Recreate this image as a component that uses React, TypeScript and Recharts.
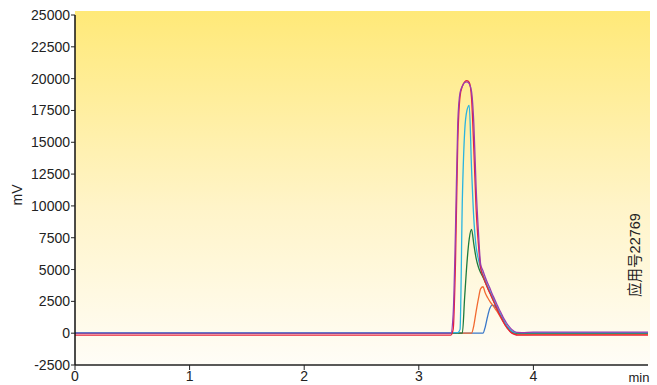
import { LineChart, Line, XAxis, YAxis } from 'recharts';

// retention time (min)
const times = [
  0, 3.25, 3.28, 3.3, 3.32, 3.34, 3.36, 3.38, 3.4, 3.42, 3.44, 3.46, 3.48, 3.5, 3.52, 3.54,
  3.56, 3.58, 3.6, 3.62, 3.64, 3.66, 3.68, 3.7, 3.72, 3.74, 3.76, 3.78, 3.8, 3.82, 3.84,
  3.86, 3.9, 4.0, 5.0,
];

// mV readings per injection
const purpleRun = [
  0, 0, 0, 1500, 8000, 16500, 18900, 19400, 19700, 19750, 19600, 19000, 16500, 11500, 8000, 5400,
  4900, 4400, 3950, 3550, 3100, 2700, 2300, 1900, 1550, 1180, 880, 610, 400, 230, 110,
  60, 50, 80, 80,
];
const redRun = [
  -150, -150, -150, 300, 5500, 15000, 18600, 19400, 19750, 19850, 19700, 18500, 14500, 9800, 7000, 5100,
  4500, 4000, 3550, 3150, 2750, 2350, 1950, 1550, 1200, 850, 550, 300, 100, -30, -110,
  -150, -150, -150, -150,
];
const cyanRun = [
  50, 50, 50, 50, 50, 50, 300, 10500, 15800, 17500, 17900, 13000, 9000, 6800, 5800, 5100,
  4600, 4150, 3700, 3300, 2900, 2500, 2100, 1700, 1350, 1000, 700, 450, 250, 120, 60,
  50, 50, 50, 50,
];
const greenRun = [
  0, 0, 0, 0, 0, 0, 0, 0, 2800, 5500, 7400, 8150, 7000, 5900, 5200, 4750,
  4400, 4000, 3600, 3200, 2800, 2400, 2000, 1650, 1300, 950, 650, 400, 200, 80, 20,
  0, 0, 0, 0,
];
const orangeRun = [
  0, 0, 0, 0, 0, 0, 0, 0, 0, 0, 0, 0, 600, 1700, 2700, 3500,
  3650, 3150, 2800, 2500, 2250, 2000, 1750, 1450, 1150, 850, 560, 320, 130, 0, -80,
  -120, -120, -100, -100,
];
const blueRun = [
  0, 0, 0, 0, 0, 0, 0, 0, 0, 0, 0, 0, 0, 0, 0, 0,
  0, 500, 1300, 1950, 2200, 2150, 1900, 1550, 1250, 950, 650, 400, 200, 80, 20,
  0, 0, 0, 0,
];

const xTicks = [0, 1, 2, 3, 4];
const yTicks = [-2500, 0, 2500, 5000, 7500, 10000, 12500, 15000, 17500, 20000, 22500, 25000];

const series = [
  { key: 'blue', values: blueRun, color: '#3a78c8' },
  { key: 'orange', values: orangeRun, color: '#f26a30' },
  { key: 'green', values: greenRun, color: '#1e7a3c' },
  { key: 'cyan', values: cyanRun, color: '#2ab4e0' },
  { key: 'red', values: redRun, color: '#e8203a' },
  { key: 'purple', values: purpleRun, color: '#9a3cb0' },
];

const data = times.map((t, i) => {
  const row: Record<string, number> = { t };
  series.forEach(s => {
    row[s.key] = s.values[i];
  });
  return row;
});

const font = '"Liberation Sans", Arial, sans-serif';
const tickStyle = { fontSize: 14, fill: '#222', fontFamily: font };

export default function App() {
  return (
    <div style={{ position: 'absolute', left: 0, top: 0 }}>
      <LineChart
        width={657}
        height={385}
        data={data}
        margin={{ top: 15, right: 9, bottom: 0, left: 0 }}
      >
        <defs>
          <linearGradient id="bg" x1="0" y1="0" x2="0" y2="1">
            <stop offset="0%" stopColor="#ffe978" />
            <stop offset="55%" stopColor="#fff4c8" />
            <stop offset="100%" stopColor="#fffdf7" />
          </linearGradient>
        </defs>
        {/* plot background */}
        <rect x={75} y={11} width={575} height={354} fill="url(#bg)" />
        <XAxis
          dataKey="t"
          type="number"
          domain={[0, 5]}
          ticks={xTicks}
          height={20}
          tickSize={5}
          tickMargin={1}
          tick={tickStyle}
          axisLine={{ stroke: '#222', strokeWidth: 1.5 }}
          tickLine={{ stroke: '#222' }}
        />
        <YAxis
          type="number"
          domain={[-2500, 25000]}
          ticks={yTicks}
          width={75}
          tickSize={4}
          tickMargin={1}
          tick={tickStyle}
          interval={0}
          axisLine={{ stroke: '#111', strokeWidth: 1.5 }}
          tickLine={{ stroke: '#222' }}
        />
        {series.map(s => (
          <Line
            key={s.key}
            dataKey={s.key}
            type="monotone"
            stroke={s.color}
            strokeWidth={1.3}
            dot={false}
            activeDot={false}
            isAnimationActive={false}
          />
        ))}
        <text
          x={22}
          y={195}
          transform="rotate(-90 22 195)"
          textAnchor="middle"
          fontSize={14}
          fontFamily={font}
          fill="#222"
        >
          mV
        </text>
        <text x={639} y={382} textAnchor="middle" fontSize={13} fontFamily={font} fill="#222">
          min
        </text>
        <text
          x={640}
          y={255}
          transform="rotate(-90 640 255)"
          textAnchor="middle"
          fontSize={14.5}
          fontFamily={'"Liberation Sans", "Noto Sans CJK SC", sans-serif'}
          fill="#222"
        >
          应用号22769
        </text>
      </LineChart>
    </div>
  );
}
